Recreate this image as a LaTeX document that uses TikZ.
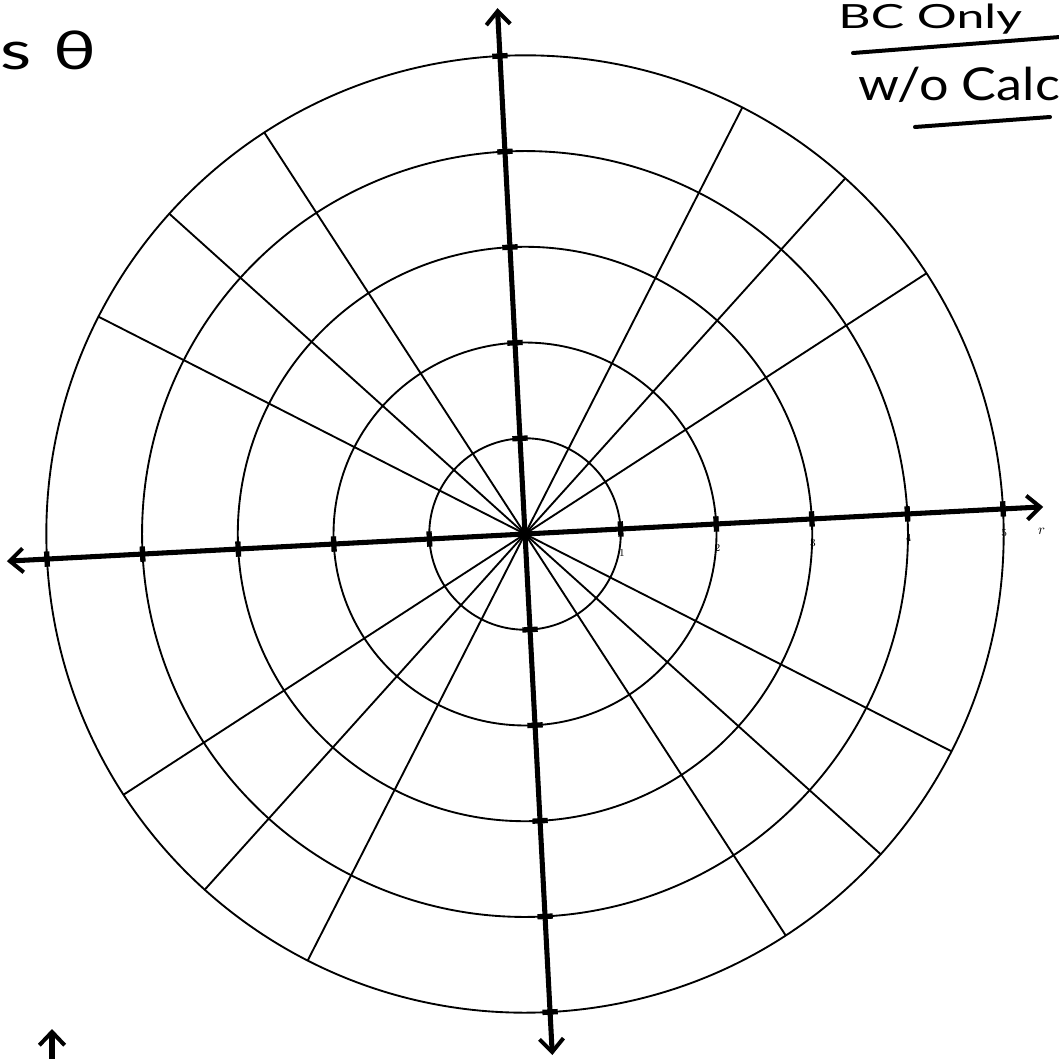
\documentclass[tikz,border=0pt]{standalone}
\usepackage{fontspec}
\newfontfamily\handfont{Lato}
\usetikzlibrary{arrows.meta}
\begin{document}
\begin{tikzpicture}[x=0.75pt,y=-0.75pt,
  gridline/.style={line width=1.4pt},
  axisline/.style={line width=3.8pt, {Straight Barb[length=10pt,width=18pt,line width=3pt]}-{Straight Barb[length=10pt,width=18pt,line width=3pt]}},
  tickmark/.style={line width=4pt},
  ticklabel/.style={font=\fontsize{8}{9}\selectfont, inner sep=0pt},
  handtext/.style={font=\handfont\fontsize{28}{30}\selectfont, inner sep=0pt},
  ink/.style={line width=3pt, line cap=round}]
\useasboundingbox (0,0) rectangle (1058,1059);
\begin{scope}[shift={(525,534)}, rotate=3, x=71.8pt, y=71.8pt]
  \coordinate (O) at (0,0);
  \foreach \r in {1,...,5} \draw[gridline] (O) circle[radius=\r];
  \foreach \a in {30,45,60,120,135,150,210,225,240,300,315,330}
    \draw[gridline] (O) -- (\a:5);
  \coordinate (xl) at (180:5.42);
  \coordinate (xr) at (0:5.42);
  \coordinate (yt) at (90:5.5);
  \coordinate (yb) at (270:5.45);
  \draw[axisline] (xl) -- (xr);
  \draw[axisline] (yb) -- (yt);
  \foreach \k in {1,...,5} {
    \draw[tickmark] (\k,-0.08) -- (\k,0.08);
    \draw[tickmark] (-\k,-0.08) -- (-\k,0.08);
    \draw[tickmark] (-0.08,\k) -- (0.08,\k);
    \draw[tickmark] (-0.08,-\k) -- (0.08,-\k);
    \node[ticklabel] (lab\k) at (\k,-0.25) {\k};
  }
  \node[inner sep=0pt, font=\fontsize{11}{12}\selectfont] (rlab) at (5.39,-0.26) {$r$};
\end{scope}
% handwritten notes
\node[handtext, anchor=base west, font=\handfont\fontsize{25}{27}\selectfont, xscale=1.5, transform shape] (bc) at (838,29) {BC Only};
\coordinate (bcl) at (853,53);
\coordinate (bcr) at (1060,37);
\draw[ink] (bcl) -- (bcr);
\node[handtext, anchor=base west, font=\handfont\fontsize{34}{36}\selectfont, xscale=1.15, transform shape] (wo) at (858,101) {w/o Calc};
\coordinate (wol) at (915,127);
\coordinate (wor) at (1050,117);
\draw[ink] (wol) -- (wor);
\node[handtext, anchor=base west, font=\handfont\fontsize{40}{42}\selectfont, xscale=1.35, transform shape] (cos) at (0,70) {s\hspace{0.3em}θ};
\coordinate (ua) at (52,1064);
\coordinate (ub) at (52,1029);
\draw[line width=4pt, -{Straight Barb[length=10pt,width=19pt,line width=3pt]}] (ua) -- (ub);
\end{tikzpicture}
\end{document}
